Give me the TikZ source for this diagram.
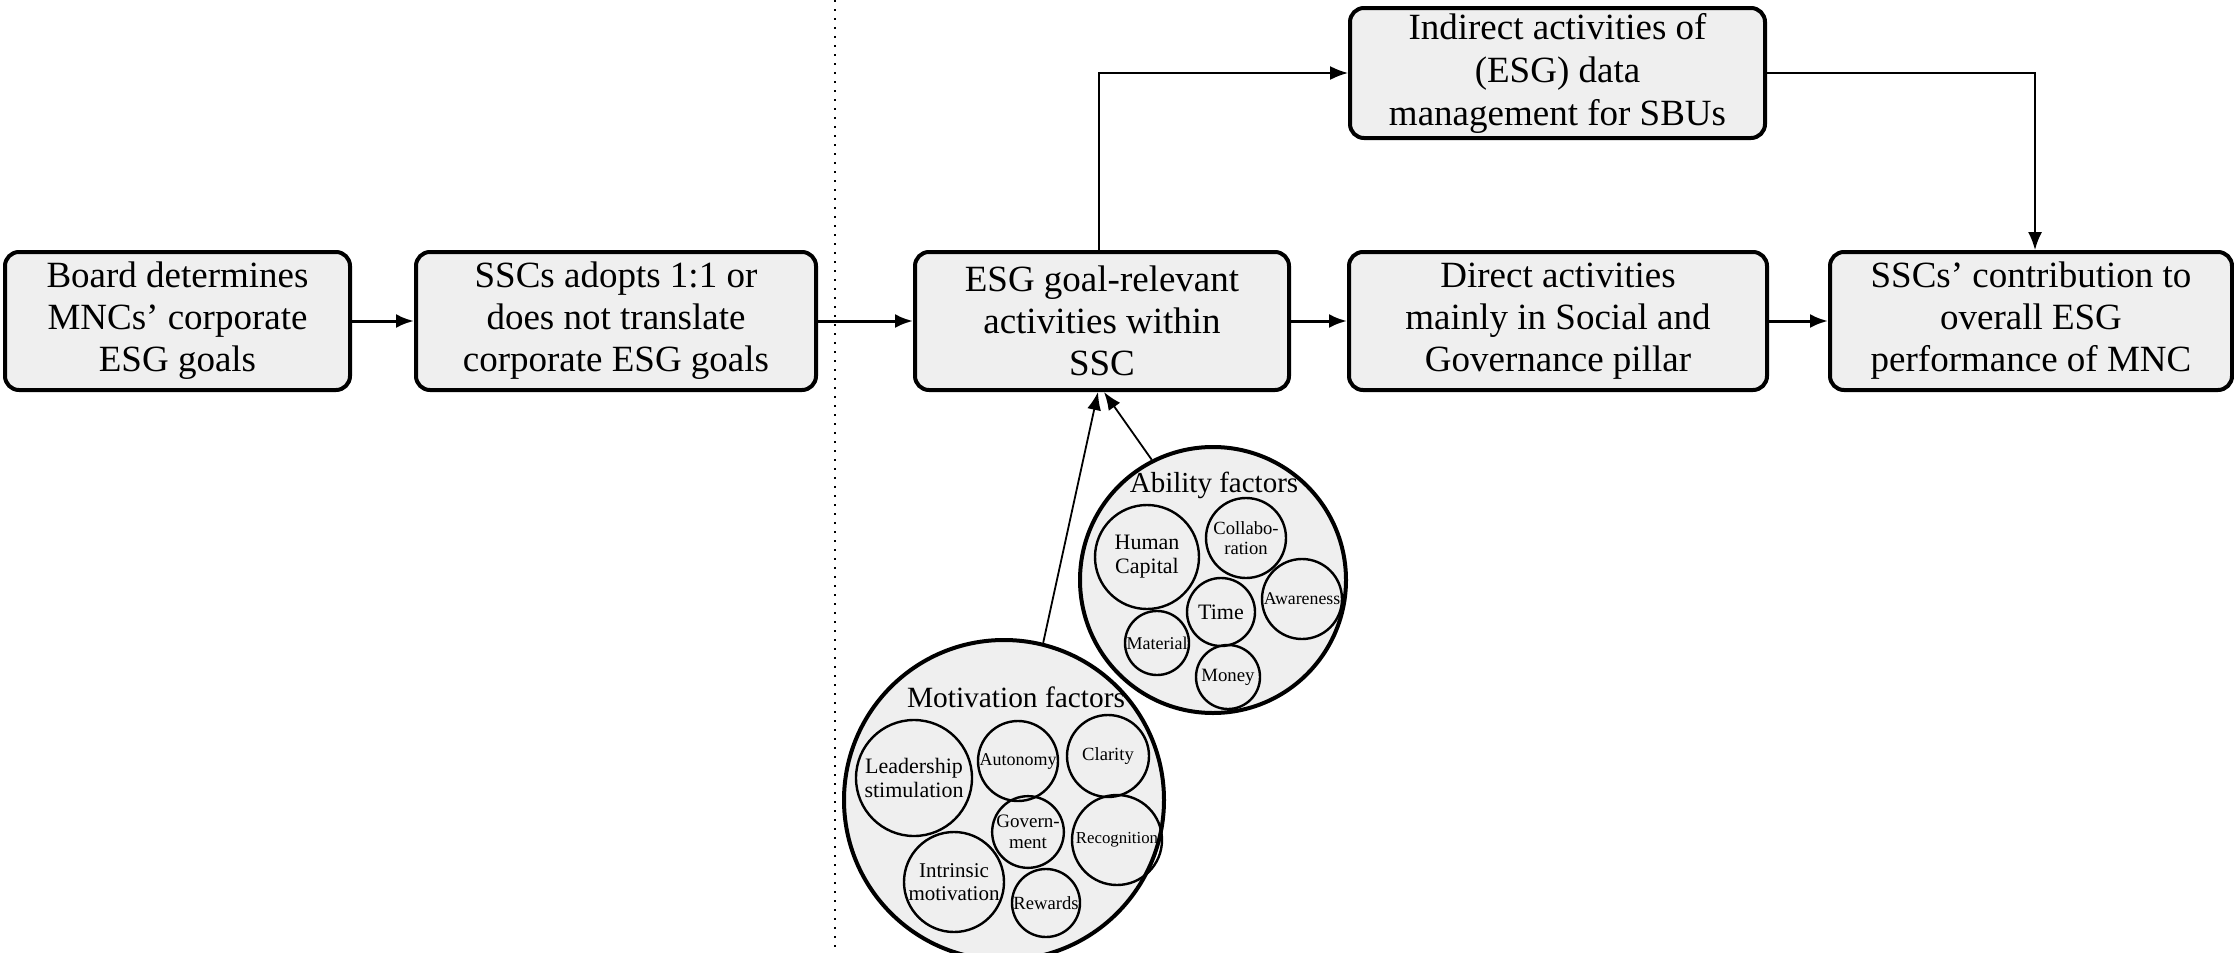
\documentclass[tikz,border=0pt]{standalone}
\usepackage{fontspec}
\setmainfont{Liberation Serif}
\newfontfamily\tnr{Liberation Serif}
\usetikzlibrary{arrows.meta}
\definecolor{boxfill}{HTML}{EFEFEF}
\tikzset{
 flowbox/.style={draw, line width=2pt, rounded corners=7pt, fill=boxfill, align=center, inner sep=0pt, font=\tnr\fontsize{18.5}{21}\selectfont},
 mainarrow/.style={line width=1.5pt, -{Latex[length=9pt,width=7pt]}},
 thinarrow/.style={line width=0.9pt, -{Latex[length=9pt,width=7pt]}},
 bigcircle/.style={draw, circle, line width=2pt, fill=boxfill, inner sep=0pt},
 smallcircle/.style={draw, circle, line width=1.2pt, inner sep=0pt, align=center},
 title/.style={inner sep=0pt, font=\tnr\fontsize{14.7}{16}\selectfont},
}
\begin{document}
\begin{tikzpicture}[x=0.5pt,y=-0.5pt]
\useasboundingbox (0,0) rectangle (2234,953);

% dotted separator
\coordinate (dtop) at (835,0);
\coordinate (dbot) at (835,953);
\draw[line width=1.1pt, dash pattern=on 1.1pt off 3.4pt] (dtop) -- (dbot);

% boxes
\node[flowbox, minimum width=172.5pt, minimum height=69pt] (b1) at (177.5,321) {Board determines\\MNCs’ corporate\\ESG goals};
\node[flowbox, minimum width=200pt, minimum height=69pt] (b2) at (616,321) {SSCs adopts 1:1 or\\does not translate\\corporate ESG goals};
\node[flowbox, minimum width=187pt, minimum height=69pt] (b3) at (1102,321) {ESG goal-relevant\\activities within\\SSC};
\node[flowbox, minimum width=209pt, minimum height=69pt] (b4) at (1558,321) {Direct activities\\mainly in Social and\\Governance pillar};
\node[flowbox, minimum width=201pt, minimum height=69pt] (b5) at (2031,321) {SSCs’ contribution to\\overall ESG\\performance of MNC};
\node[flowbox, minimum width=207.5pt, minimum height=65pt, font=\tnr\fontsize{18.5}{21.5}\selectfont] (top) at (1557.5,73) {Indirect activities of\\(ESG) data\\management for SBUs};

% connectors
\draw[mainarrow] (b1) -- (b2);
\draw[mainarrow] (b2) -- (b3);
\draw[mainarrow] (b3) -- (b4);
\draw[mainarrow] (b4) -- (b5);
\draw[thinarrow] ([xshift=-1.5pt]b3.north) |- (top.west);
\draw[thinarrow] (top.east) -| ([xshift=2pt]b5.north);

% motivation circle
\node[bigcircle, minimum size=160pt] (mot) at (1004,800) {};
\node[title] (mottitle) at (1016,697) {Motivation factors};
\node[smallcircle, minimum size=58pt, font=\tnr\fontsize{11}{12}\selectfont] (lead) at (914,778) {Leadership\\stimulation};
\node[smallcircle, minimum size=40pt, font=\tnr\fontsize{9}{10}\selectfont] (auto) at (1018,761) {Autonomy};
\node[smallcircle, minimum size=41pt, font=\tnr\fontsize{9.3}{10}\selectfont] (clar) at (1108,756) {Clarity};
\node[smallcircle, minimum size=34pt, font=\tnr\fontsize{9.5}{10.5}\selectfont] (gov) at (1028,832) {Govern-\\ment};
\node[smallcircle, minimum size=45pt, font=\tnr\fontsize{8.4}{9}\selectfont] (reco) at (1117,840) {Recognition};
\node[smallcircle, minimum size=50pt, font=\tnr\fontsize{10.5}{11.5}\selectfont] (intr) at (954,882) {Intrinsic\\motivation};
\node[smallcircle, minimum size=34pt, font=\tnr\fontsize{9.3}{10}\selectfont] (rew) at (1046,903) {Rewards};

% ability circle
\node[bigcircle, minimum size=133pt] (abil) at (1213,580) {};
\node[title, font=\tnr\fontsize{14.5}{15.5}\selectfont] (abtitle) at (1214,485) {Ability factors};
\node[smallcircle, minimum size=52pt, font=\tnr\fontsize{11}{12}\selectfont] (hc) at (1147,557) {Human\\Capital};
\node[smallcircle, minimum size=40pt, font=\tnr\fontsize{9.3}{10}\selectfont] (coll) at (1246,538) {Collabo-\\ration};
\node[smallcircle, minimum size=40pt, font=\tnr\fontsize{8.9}{9.5}\selectfont] (awar) at (1302,599) {Awareness};
\node[smallcircle, minimum size=34pt, font=\tnr\fontsize{11}{12}\selectfont] (time) at (1221,612) {Time};
\node[smallcircle, minimum size=32pt, font=\tnr\fontsize{9}{10}\selectfont] (mat) at (1157,643) {Material};
\node[smallcircle, minimum size=32pt, font=\tnr\fontsize{9.4}{10}\selectfont] (mon) at (1228,677) {Money};

% factor arrows
\draw[thinarrow] (mot.76) -- ([xshift=-2pt]b3.south);
\draw[thinarrow] (abil.117) -- ([xshift=1pt]b3.south);
\end{tikzpicture}
\end{document}
